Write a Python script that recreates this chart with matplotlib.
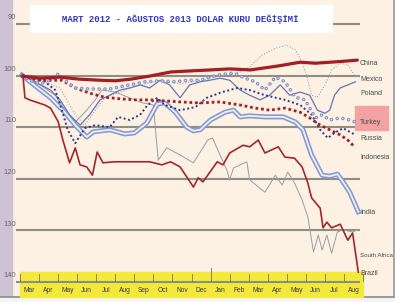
import matplotlib
matplotlib.use("Agg")
import matplotlib.pyplot as plt
from matplotlib.patches import Rectangle

# ---------------- data (month index from Mar 2012 = 0, index value; axis inverted) ----------------
months = ["Mar", "Apr", "May", "Jun", "Jul", "Aug", "Sep", "Oct", "Nov", "Dec",
          "Jan", "Feb", "Mar", "Apr", "May", "Jun", "Jul", "Aug"]
yticks = [90, 100, 110, 120, 130, 140]
title = "MART 2012 - AĞUSTOS 2013 DOLAR KURU DEĞİŞİMİ"

china_x = [0.1, 1.05, 2.1, 3.15, 4.2, 5.0, 5.8, 6.8, 7.9, 8.9, 10.0, 11.0, 12.1, 12.85, 13.6, 14.7, 15.5, 16.3, 17.05, 17.7]
china_y = [100.1, 100.5, 100.3, 100.7, 100.9, 101.0, 100.7, 100.1, 99.3, 99.1, 98.9, 98.7, 98.9, 98.5, 98.1, 97.4, 97.6, 97.4, 97.2, 97.0]

mexico_x = [0.1, 1.05, 2.1, 2.9, 3.4, 3.95, 4.45, 5.25, 6.3, 7.35, 8.4, 9.45, 10.5, 11.55, 12.05, 12.7, 13.4, 14.0, 14.45, 14.8, 15.05, 15.3, 15.6, 16.0, 16.35, 16.8, 17.2, 17.55]
mexico_y = [99.9, 100.9, 102.4, 107.6, 109.6, 106.7, 104.3, 103.2, 101.8, 100.9, 101.6, 100.9, 100.1, 99.3, 98.3, 96.0, 94.7, 94.1, 95.0, 97.4, 100.1, 103.8, 104.2, 101.8, 98.9, 97.6, 97.9, 99.9]

poland_x = [0.1, 0.8, 1.6, 2.1, 2.6, 3.15, 3.65, 4.2, 4.7, 5.25, 5.75, 6.3, 6.8, 7.35, 7.85, 8.4, 8.9, 9.45, 9.95, 10.5, 11.0, 11.55, 12.05, 12.6, 13.1, 13.65, 14.15, 14.7, 15.2, 15.6, 16.0, 16.25, 16.5, 16.8, 17.2, 17.6]
poland_y = [99.9, 101.2, 102.8, 104.7, 107.6, 109.6, 107.6, 104.7, 103.8, 102.8, 102.4, 101.8, 102.4, 100.9, 101.8, 104.3, 101.8, 101.2, 100.9, 100.5, 100.9, 102.8, 103.8, 104.7, 103.8, 101.8, 103.8, 103.2, 103.8, 106.7, 107.3, 106.7, 103.8, 102.4, 101.8, 101.2]

turkey_x = [0.1, 0.5, 1.05, 1.6, 2.0, 2.35, 2.9, 3.65, 4.7, 5.75, 6.55, 7.35, 8.15, 8.75, 9.45, 10.35, 11.2, 11.8, 12.35, 12.85, 13.4, 13.9, 14.45, 14.95, 15.5, 15.85, 16.25, 16.8, 17.3, 17.6]
turkey_y = [99.9, 100.9, 101.6, 100.9, 99.7, 100.9, 102.4, 102.6, 102.6, 101.8, 101.2, 101.0, 101.2, 100.9, 100.9, 99.9, 99.5, 100.5, 101.2, 102.8, 100.3, 101.2, 104.2, 104.7, 108.2, 107.6, 108.6, 108.2, 108.6, 109.0]

russia_x = [0.1, 0.8, 1.3, 1.85, 2.2, 2.5, 2.9, 3.4, 3.95, 4.7, 5.15, 5.75, 6.3, 6.7, 7.2, 7.6, 8.4, 9.2, 9.8, 10.6, 11.4, 12.05, 12.85, 13.9, 14.7, 15.3, 15.75, 16.15, 16.5, 16.95, 17.3, 17.6]
russia_y = [99.9, 100.5, 101.2, 102.8, 106.7, 110.5, 113.1, 110.2, 109.6, 110.0, 108.0, 108.6, 107.6, 105.7, 104.3, 105.7, 106.7, 106.1, 104.3, 103.2, 102.4, 102.8, 103.8, 104.7, 105.7, 107.6, 110.5, 112.1, 111.1, 110.2, 110.9, 111.5]

indonesia_x = [0.1, 0.8, 1.6, 2.2, 2.9, 3.65, 4.45, 5.25, 6.05, 6.8, 7.6, 8.4, 9.45, 10.5, 11.55, 12.35, 13.1, 13.9, 14.7, 15.2, 15.75, 16.25, 16.8, 17.2, 17.55]
indonesia_y = [99.9, 100.9, 100.9, 100.9, 102.4, 103.4, 104.2, 104.5, 104.7, 104.7, 104.9, 105.1, 105.3, 105.1, 105.7, 106.3, 106.7, 106.3, 107.1, 108.2, 109.6, 110.5, 111.5, 112.5, 113.8]

india_x = [0.1, 0.8, 1.6, 2.35, 2.9, 3.5, 3.85, 4.7, 5.5, 6.0, 6.65, 7.2, 7.6, 8.15, 8.75, 9.1, 9.45, 10.0, 10.75, 11.2, 11.55, 12.05, 12.85, 13.8, 14.45, 14.85, 15.3, 15.85, 16.25, 16.65, 16.95, 17.3, 17.75]
india_y = [99.9, 102.0, 104.3, 107.1, 109.6, 111.9, 110.9, 110.5, 111.3, 111.1, 109.2, 105.5, 105.3, 107.1, 110.0, 110.7, 110.5, 108.6, 107.1, 106.7, 108.0, 107.8, 108.0, 108.0, 109.0, 110.5, 115.4, 119.3, 119.5, 119.1, 120.6, 122.6, 126.4]

safrica_x = [0.1, 1.05, 1.85, 2.35, 2.9, 3.4, 3.95, 4.3, 5.0, 5.75, 6.45, 7.0, 7.25, 7.7, 8.4, 9.1, 9.85, 10.1, 10.85, 11.0, 11.2, 11.9, 12.05, 12.85, 13.4, 13.75, 14.05, 14.4, 14.8, 15.1, 15.4, 15.65, 15.85, 16.1, 16.35, 16.65, 16.95, 17.45, 17.7]
safrica_y = [99.9, 101.8, 103.8, 106.7, 109.0, 107.1, 104.7, 102.8, 103.2, 104.3, 105.3, 105.7, 116.4, 114.0, 115.4, 116.9, 112.5, 112.1, 118.3, 120.2, 117.9, 116.7, 120.2, 122.6, 119.3, 121.2, 118.7, 120.8, 124.1, 127.4, 134.2, 130.9, 133.8, 130.9, 134.4, 130.3, 129.9, 130.3, 129.9]

brazil_x = [0.15, 0.26, 0.5, 1.3, 1.6, 2.0, 2.25, 2.6, 2.9, 3.15, 3.5, 3.8, 4.05, 4.35, 5.0, 5.5, 6.3, 6.8, 7.45, 7.9, 8.4, 9.1, 9.35, 9.6, 10.35, 10.65, 11.0, 11.7, 12.05, 12.5, 12.85, 13.55, 13.9, 14.4, 14.8, 15.1, 15.3, 15.75, 15.9, 16.1, 16.35, 16.8, 17.2, 17.45, 17.75]
brazil_y = [99.9, 104.3, 104.7, 105.7, 106.3, 108.9, 112.5, 116.9, 114.0, 117.3, 117.7, 119.3, 114.8, 116.9, 116.7, 116.7, 116.7, 116.7, 117.3, 116.7, 117.7, 121.6, 119.8, 120.6, 116.7, 117.3, 115.0, 113.5, 113.8, 112.5, 115.0, 113.8, 115.8, 116.0, 117.7, 120.8, 123.7, 125.7, 129.5, 128.4, 129.5, 128.8, 131.9, 130.5, 138.1]

labels = ["China", "Mexico", "Poland", "Turkey", "Russia", "Indonesia", "India", "South Africa", "Brazil"]
label_pos = [97.6, 100.8, 103.4, 109.0, 112.1, 115.8, 126.6, 134.8, 138.3]
label_size = [5.0, 5.0, 5.0, 5.0, 5.0, 4.9, 5.0, 4.4, 5.0]

# ---------------- figure ----------------
W, H = 395, 302
fig = plt.figure(figsize=(W / 100, H / 100), dpi=100)
fig.patch.set_facecolor("#fcf1e3")
ax = fig.add_axes([0, 0, 1, 1])
ax.set_facecolor("#fcf1e3")
PXM = 19.06   # px per month
PXV = 5.16    # px per index unit
ax.set_xlim(-20 / PXM, (W - 20) / PXM)
ax.set_ylim(90 + (H - 24) / PXV, 90 - 24 / PXV)
ax.axis("off")

def px2v(p):
    return 90 + (p - 24) / PXV

def px2m(p):
    return (p - 20) / PXM

small = ["Liberation Sans", "DejaVu Sans"]
mono = ["Liberation Mono", "DejaVu Sans Mono"]

# left strip and borders
ax.add_patch(Rectangle((px2m(0), px2v(0)), 12 / PXM, 297 / PXV, color="#cfc2d4", zorder=0))
ax.add_patch(Rectangle((px2m(0), px2v(297)), W / PXM, 6 / PXV, color="#f4f4f4", zorder=0))
ax.plot([px2m(0), px2m(W)], [px2v(297), px2v(297)], color="#8a8a8a", lw=1.2, zorder=1)
ax.plot([px2m(393.5), px2m(393.5)], [px2v(0), px2v(297)], color="#9a9a9a", lw=1.2, zorder=1)

# yellow month band
ax.add_patch(Rectangle((0, px2v(272)), 18, (297 - 272) / PXV, color="#f2e93a", zorder=1))

# gridlines
for v in yticks:
    ax.plot([px2m(16), px2m(360)], [v, v], color="#8e8e86", lw=1.5, zorder=2, solid_capstyle="butt")
    ax.text(px2m(16), v - 0.55, str(v), ha="right", va="bottom", fontsize=5.5,
            color="#6a6a6a", family=small, zorder=3)

# month ticks and labels
for k in range(19):
    top = px2v(268) if k == 10 else px2v(274)
    ax.plot([k, k], [top, px2v(281)], color="#777766", lw=0.6, zorder=3)
for k, mname in enumerate(months):
    ax.text(k + 0.5, px2v(290), mname, ha="center", va="center", fontsize=4.8,
            color="#3a3a55", family=small, zorder=3)

# series
ax.plot(safrica_x, safrica_y, color="#9c9ca6", lw=0.7, zorder=4)
ax.plot(mexico_x, mexico_y, color="#a6a6b0", lw=0.8, ls=(0, (1, 1.5)), zorder=4)
ax.plot(india_x, india_y, color="#8598d0", lw=3.6, zorder=5, solid_joinstyle="round")
ax.plot(india_x, india_y, color="#eef0fa", lw=1.3, zorder=5, solid_joinstyle="round")
ax.plot(poland_x, poland_y, color="#6676b4", lw=0.9, zorder=6)
ax.plot(russia_x, russia_y, color="#2a3a8c", lw=1.4, ls=(0, (1, 1.3)), zorder=6)
ax.plot(indonesia_x, indonesia_y, color="#a3222a", lw=2.0, ls=(0, (1, 1)), zorder=6)
ax.plot(turkey_x, turkey_y, color="#8190c8", lw=2.6, ls=(0, (0.01, 1.6)),
        dash_capstyle="round", zorder=7)
ax.plot(turkey_x, turkey_y, color="#dde2f4", lw=1.1, ls=(0, (0.01 * 2.6 / 1.1, 1.6 * 2.6 / 1.1)),
        dash_capstyle="round", zorder=7)
ax.plot(brazil_x, brazil_y, color="#a4262c", lw=1.2, zorder=8)
ax.plot(china_x, china_y, color="#a31f24", lw=2.3, zorder=8, solid_capstyle="round")

# pink highlight box behind Turkey
ax.add_patch(Rectangle((px2m(355), px2v(106)), 33 / PXM, 24 / PXV, color="#f2a2a2", zorder=3))

# right labels
for name, pos, fs in zip(labels, label_pos, label_size):
    ax.text(px2m(360), pos, name, ha="left", va="center", fontsize=fs,
            color="#4a4a4a", family=small, zorder=9)

# title box
ax.add_patch(Rectangle((px2m(30), px2v(5)), (333 - 30) / PXM, (33 - 5) / PXV,
                       facecolor="white", edgecolor="none", zorder=10))
ax.text(px2m(180), px2v(19), title, ha="center", va="center", fontsize=6.5,
        fontweight="bold", color="#3434c4", family=mono, zorder=11)

fig.savefig("out.png", dpi=100, facecolor=fig.get_facecolor())
